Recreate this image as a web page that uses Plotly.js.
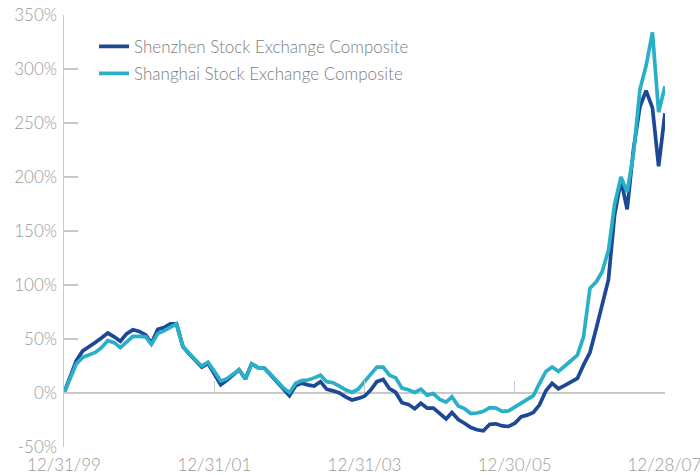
<!DOCTYPE html>
<html>
<head>
<meta charset="utf-8">
<script src="https://cdn.plot.ly/plotly-3.0.1.min.js"></script>
<style>html,body{margin:0;padding:0;background:#fff;}#chart{width:700px;height:475px;}</style>
</head>
<body>
<div id="chart"></div>
<script>
// Month-end observations, Dec 1999 .. Dec 2007 (cumulative return, %)
const startYear = 1999, startMonth = 12, monthCount = 97;
const shenzhen = [0,15,30,39,42.5,46.7,51,55.5,52,48,55,58.5,57,53.7,46,59,60.5,64,64,43,36,30,24,27.5,17.5,
  7.5,11.5,17,21.5,13,27,23.5,23,17,10.5,4,-2.5,7,9,7.5,6.5,10.5,3.5,2,0,-3.5,-6.5,-5,-3,3,10.5,12.5,4,0.5,-9,
  -10.5,-14.5,-9.5,-14,-14,-19,-24,-18,-24.5,-28,-32,-34,-35,-29,-28.5,-30.5,-31,-28,-22,-20.5,-18,-11,2,9,4,7,
  10.5,13.5,26,37.5,60,83,105,165,197,170,226,265,280,264,210,259];
const shanghai = [0,13.5,27,33,35,37.5,42,48.5,46.6,42,47.3,52.5,52.5,52,45,55,57.5,61,64,43,36,30.5,25,28.5,20,
  11,13,17.5,21.5,13,27,23.5,23,17.5,11,5,0.5,9,11.5,12,14,16.5,10.5,9.5,6.4,3,0.5,3.5,10.5,17.5,24,24,16.5,14,4.5,
  3,0.5,3.5,-2,-0.5,-6,-8.5,-3.5,-12,-14.5,-19,-18.5,-17,-13.5,-14,-17,-16.5,-13,-9,-5.5,-2.5,9,20,24,20,25,
  30,35,52,97,103,112,132,175,200,186,222,281,303,334,260,284];
const seriesNames = ['Shenzhen Stock Exchange Composite', 'Shanghai Stock Exchange Composite'];
const tickDates = ['1999-12-31', '2001-12-31', '2003-12-31', '2005-12-30', '2007-12-28'];
const tickLabels = ['12/31/99', '12/31/01', '12/31/03', '12/30/05', '12/28/07'];
const yTicks = [-50, 0, 50, 100, 150, 200, 250, 300, 350];
const yTickLabels = ['-50%', '0%', '50%', '100%', '150%', '200%', '250%', '300%', '350%'];

// month-end dates
const dates = [];
for (let i = 0; i < monthCount; i++) {
  const m0 = (startMonth - 1) + i;
  const y = startYear + Math.floor(m0 / 12);
  const m = m0 % 12;
  const last = new Date(Date.UTC(y, m + 1, 0)).getUTCDate();
  dates.push(y + '-' + String(m + 1).padStart(2, '0') + '-' + String(last).padStart(2, '0'));
}

const fontFam = 'Lato, "Open Sans", sans-serif';
const gray = '#c9c9c9';
const traces = [
  {x: tickDates, y: tickDates.map(() => null), xaxis: 'x2', type: 'scatter', mode: 'lines',
   showlegend: false, hoverinfo: 'skip'},
  {x: dates, y: shenzhen, name: seriesNames[0], type: 'scatter', mode: 'lines',
   line: {color: '#1d4896', width: 3.7}, legendgroup: 'a'},
  {x: dates, y: shanghai, name: seriesNames[1], type: 'scatter', mode: 'lines',
   line: {color: '#29b0c8', width: 3.7}, legendgroup: 'b'}
];
const layout = {
  width: 700, height: 475,
  margin: {l: 64, r: 35, t: 15, b: 28},
  paper_bgcolor: '#fff', plot_bgcolor: '#fff',
  font: {family: fontFam, color: '#9a9a9a', size: 17, weight: 300},
  showlegend: true,
  legend: {x: 0.05, y: 0.968, xanchor: 'left', yanchor: 'top', bgcolor: 'rgba(0,0,0,0)',
    font: {family: fontFam, size: 17, color: '#7d7d7d', weight: 300}, tracegroupgap: 2, traceorder: 'grouped'},
  xaxis: {type: 'date', range: ['1999-12-31', '2007-12-31'], tickmode: 'array',
    tickvals: tickDates, ticktext: tickLabels, showgrid: false, zeroline: false,
    showline: false, ticks: '', ticklabeloverflow: 'allow', ticklabelstandoff: 6,
    tickfont: {size: 17, color: '#9a9a9a'}},
  xaxis2: {type: 'date', overlaying: 'x', matches: 'x', anchor: 'free', position: 0.125, side: 'bottom',
    tickmode: 'array', tickvals: tickDates, ticks: 'inside', ticklen: 12, tickcolor: gray, tickwidth: 1.5,
    showticklabels: false, showgrid: false, zeroline: false, showline: false},
  yaxis: {range: [-50, 350], tickmode: 'array', tickvals: yTicks, ticktext: yTickLabels,
    showgrid: false, zeroline: true, zerolinecolor: gray, zerolinewidth: 1.5,
    showline: true, linecolor: gray, linewidth: 1.5, ticks: 'inside', ticklen: 14,
    tickcolor: gray, tickwidth: 1.5, ticklabelstandoff: 2, tickfont: {size: 17, color: '#9a9a9a'}}
};
Plotly.newPlot('chart', traces, layout, {displayModeBar: false, staticPlot: true});
</script>
</body>
</html>
